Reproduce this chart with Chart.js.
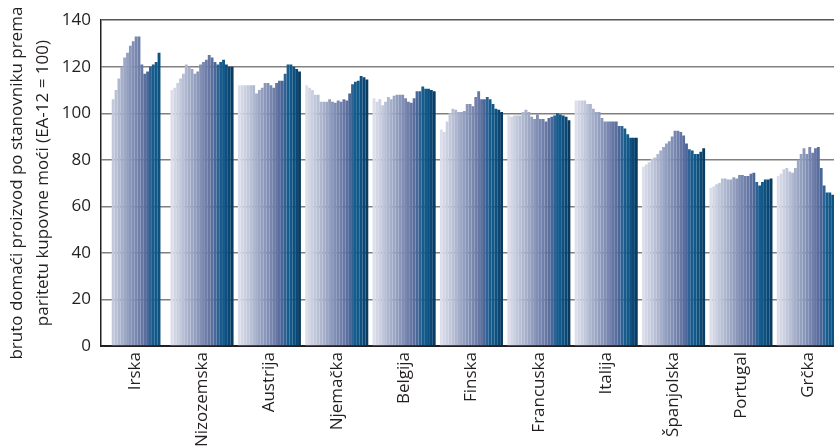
<!DOCTYPE html>
<html>
<head>
<meta charset="utf-8">
<script src="https://cdn.jsdelivr.net/npm/chart.js@4.4.0/dist/chart.umd.min.js"></script>
<style>
  html, body { margin: 0; padding: 0; background: #fff; overflow: hidden; }
  #wrap { width: 842px; height: 447px; }
</style>
</head>
<body>
<div id="wrap"><canvas id="myChart" width="842" height="447"></canvas></div>
<script>
// zemlje (kategorije na x osi)
const zemlje = ['Irska', 'Nizozemska', 'Austrija', 'Njemačka', 'Belgija', 'Finska',
    'Francuska', 'Italija', 'Španjolska', 'Portugal', 'Grčka'];

// 22 godine po zemlji, BDP po stanovniku (EA-12 = 100)
const irska      = [null, null, null, 106, 110, 115, 120, 124, 126, 129, 131, 133, 133, 121, 117, 118, 120, 121, 122, 126, null, null];
const nizozemska = [110, 111, 113, 115, 117, 121, 120, 119, 117, 118, 121, 122, 123, 125, 124, 122, 121, 122, 123, 121, 120, 120];
const austrija   = [112, 112, 112, 112, 112, 112, 108.5, 110, 111, 113, 113, 112, 111, 113, 114, 114, 117, 121, 121, 120, 119, 118];
const njemacka   = [112, 111, 110, 108, 108, 105, 105, 105, 106, 105, 104.5, 105.5, 105, 106, 105.5, 108.5, 112.5, 113.5, 114, 116, 115.5, 114.5];
const belgija    = [106.5, 105, 106, 103.5, 105, 107, 106, 107.5, 108, 108, 108, 106.5, 105, 104.5, 106.5, 109.5, 109.5, 111.5, 110.5, 110.5, 110, 109.5];
const finska     = [93, 92, 96.5, 100, 102, 101.5, 100.5, 100.5, 101, 104, 104, 103, 107, 109.5, 106, 106, 107, 106, 104, 102, 101.5, 100.5];
const francuska  = [99, 98.5, 99, 99, 99, 100.5, 101.5, 100.5, 98.5, 97.5, 99.5, 97.5, 97.5, 96.5, 98, 98.5, 99, 100, 99.5, 99, 98.5, 97];
const italija    = [105.5, 105.5, 105.5, 105.5, 104, 104, 102, 100.5, 100.5, 98, 96.5, 96.5, 96.5, 96.5, 96.5, 94.5, 94.5, 93.5, 91, 89.5, 89.5, 89.5];
const spanjolska = [77, 78, 79, 80.5, 81, 82.5, 84, 85.5, 87, 88, 90, 92.5, 92.5, 92, 90.5, 87, 84.5, 84, 82.5, 82.5, 83.5, 85];
const portugal   = [68, 68.5, 69.5, 70, 72, 72, 71.5, 71.5, 72.5, 72, 73.5, 73.5, 73, 73, 74, 74.5, 70.5, 69, 70.5, 71.5, 71.5, 72];
const grcka      = [73, 74, 76, 76.5, 75, 74.5, 76.5, 80, 82.5, 85, 82.5, 85.5, 83, 85, 85.5, 76.5, 69, 66, 66, 65, null, null];

const vrijednosti = [irska, nizozemska, austrija, njemacka, belgija, finska,
    francuska, italija, spanjolska, portugal, grcka];

// boje stupaca po godini, od svijetle prema tamnoj
const boje = ['#dcdfea', '#d3d7e5', '#cad0e0', '#c1c8da', '#b8c0d5', '#aeb7cf', '#a5afca',
    '#9ca7c4', '#939fbf', '#8a97ba', '#818fb4', '#7887af', '#6f7fa9', '#6677a4', '#5b6f9f',
    '#496899', '#2d6294', '#165d8e', '#125888', '#0e5080', '#0c4672', '#0a3c61'];

const datasets = boje.map(function(boja, i) {
    return {
        label: String(i + 1),
        data: vrijednosti.map(function(z) { return z[i]; }),
        backgroundColor: boja,
        borderWidth: 0,
        categoryPercentage: 0.936,
        barPercentage: 1.0
    };
});

const tekst = '#231f20';
const pismo = "'Open Sans', 'Noto Sans', sans-serif";

const config = {
    type: 'bar',
    data: { labels: zemlje, datasets: datasets },
    options: {
        responsive: false,
        animation: false,
        layout: { padding: { top: 20, left: 0, right: 0, bottom: 0 } },
        plugins: { legend: { display: false }, tooltip: { enabled: false } },
        scales: {
            x: {
                grid: { display: false, drawTicks: false },
                border: { display: true, color: '#231f20', width: 2 },
                ticks: {
                    autoSkip: false, minRotation: 90, maxRotation: 90, padding: 6,
                    color: tekst, font: { family: pismo, size: 17 }
                },
                afterFit: function(s) { s.height = 101; }
            },
            y: {
                min: 0, max: 140,
                grid: {
                    drawTicks: false,
                    lineWidth: 1.5,
                    color: function(c) { return c.tick && c.tick.value === 140 ? '#555' : '#808080'; }
                },
                border: { display: true, color: '#231f20', width: 1.5 },
                ticks: {
                    stepSize: 20, padding: 10,
                    color: tekst, font: { family: pismo, size: 17 }
                },
                title: {
                    display: true,
                    text: ['bruto domaći proizvod po stanovniku prema', 'paritetu kupovne moći (EA-12 = 100)'],
                    color: tekst,
                    font: { family: pismo, size: 17, lineHeight: 1.55 },
                    padding: { top: 4, bottom: 0 }
                },
                afterFit: function(s) { s.width = 101; }
            }
        }
    }
};

const myChart = new Chart(document.getElementById('myChart'), config);
</script>
</body>
</html>
